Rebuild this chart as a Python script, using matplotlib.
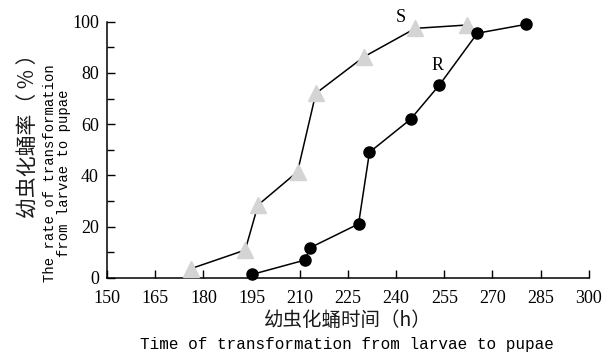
import matplotlib.pyplot as plt
from matplotlib.ticker import MultipleLocator

# data
s_time = [176, 193, 197, 209.3, 215, 230, 246, 262]
s_rate = [3.5, 10.8, 28.4, 41.4, 72, 86.3, 97.4, 98.7]
r_time = [195.2, 211.6, 213.2, 228.3, 231.7, 244.5, 253.5, 265.3, 280.6]
r_rate = [1.3, 6.9, 11.7, 21, 49, 61.9, 75.3, 95.5, 99]
x_ticks = [150, 165, 180, 195, 210, 225, 240, 255, 270, 285, 300]
y_ticks = [0, 20, 40, 60, 80, 100]

serif = 'Liberation Serif'
mono = 'Liberation Mono'
cjk = ['Noto Sans CJK SC', 'DejaVu Sans']

fig = plt.figure(figsize=(6.02, 3.54), dpi=100)
ax = fig.add_axes([0.178, 0.2155, 0.80, 0.7232])

ax.plot(s_time, s_rate, color='black', lw=1.1, zorder=2)
ax.plot(s_time, s_rate, ls='none', marker='^', ms=12, color='#d4d4d4', mec='#d4d4d4', zorder=3, clip_on=False)
ax.plot(r_time, r_rate, color='black', lw=1.1, marker='o', ms=8, mfc='black', mec='black', zorder=4, clip_on=False)

ax.text(241.5, 101.5, 'S', fontsize=13, family=serif, ha='center', va='center')
ax.text(253, 83, 'R', fontsize=13, family=serif, ha='center', va='center')

ax.set_xlim(150, 300)
ax.set_ylim(0, 100)
ax.set_xticks(x_ticks)
ax.set_yticks(y_ticks)
ax.yaxis.set_minor_locator(MultipleLocator(10))
ax.spines['top'].set_visible(False)
ax.spines['right'].set_visible(False)
for sp in ['left', 'bottom']:
    ax.spines[sp].set_linewidth(1.1)
ax.tick_params(which='major', direction='in', length=6, width=1, pad=6)
ax.tick_params(axis='x', pad=9)
ax.tick_params(which='minor', direction='in', length=5, width=1)
for lab in ax.get_xticklabels() + ax.get_yticklabels():
    lab.set_family(serif)
    lab.set_fontsize(13)

# axis titles
fig.text(0.578, 0.096, '幼虫化蛹时间（h）', family=cjk, fontsize=14, color='#1a1a1a', ha='center', va='center')
fig.text(0.577, 0.028, 'Time of transformation from larvae to pupae', family=mono, fontsize=11.5, ha='center', va='center')
fig.text(0.047, 0.63, '幼虫化蛹率（ % ）', family=cjk, fontsize=15, color='#1a1a1a', rotation=90, ha='center', va='center')
fig.text(0.094, 0.51, 'The rate of transformation\nfrom larvae to pupae', family=mono, fontsize=10,
         rotation=90, ha='center', va='center', linespacing=1.0)

fig.savefig('out.png', dpi=100)
